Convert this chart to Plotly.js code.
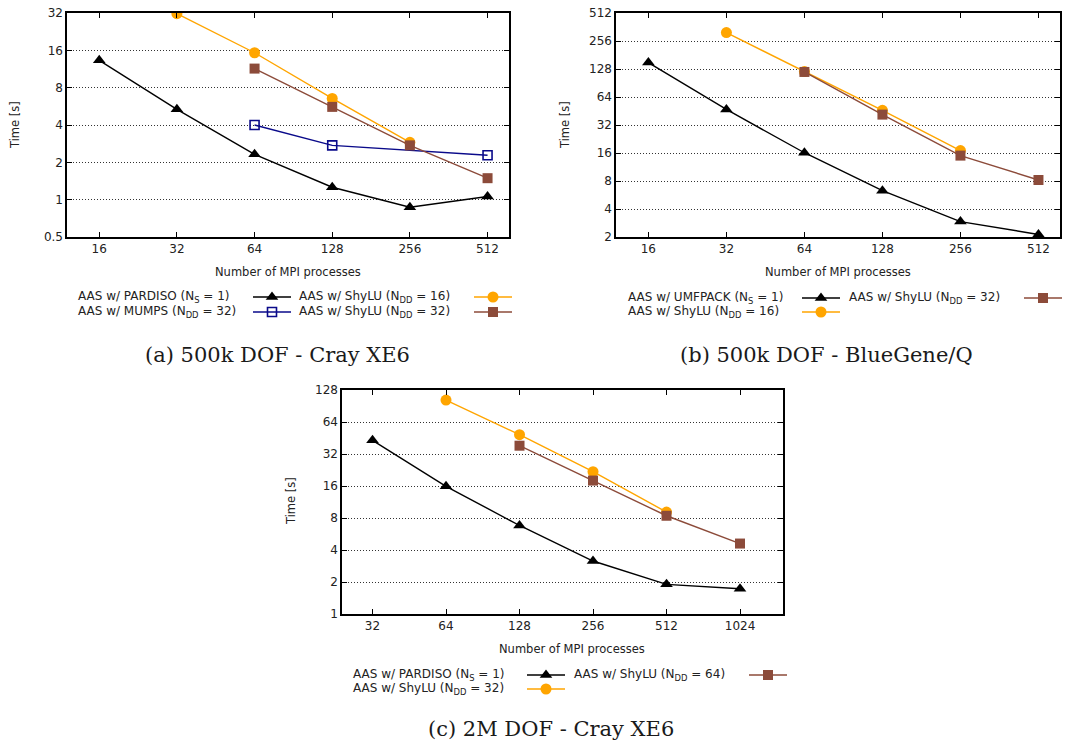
<!DOCTYPE html>
<html>
<head>
<meta charset="utf-8">
<script src="https://cdn.plot.ly/plotly-3.0.1.min.js"></script>
<style>html,body{margin:0;padding:0;background:#fff}#chart{width:1078px;height:745px}</style>
</head>
<body>
<div id="chart"></div>
<script>
// ---------- data ----------
const procsA = [16, 32, 64, 128, 256, 512];
const pardisoA = [13.3, 5.35, 2.32, 1.26, 0.87, 1.06];
const mumpsProcsA = [64, 128, 512];
const mumpsA = [4.0, 2.74, 2.28];
const shylu16ProcsA = [32, 64, 128, 256];
const shylu16A = [31.6, 15.3, 6.55, 2.9];
const shylu32ProcsA = [64, 128, 256, 512];
const shylu32A = [11.4, 5.6, 2.74, 1.49];

const procsB = [16, 32, 64, 128, 256, 512];
const umfpackB = [150, 47, 16.1, 6.3, 2.93, 2.13];
const shylu16ProcsB = [32, 64, 128, 256];
const shylu16B = [315, 120, 46, 17];
const shylu32ProcsB = [64, 128, 256, 512];
const shylu32B = [119, 41.4, 15, 8.2];

const procsC = [32, 64, 128, 256, 512, 1024];
const pardisoC = [43, 15.9, 6.8, 3.15, 1.9, 1.73];
const shylu32ProcsC = [64, 128, 256, 512];
const shylu32C = [103, 48.6, 21.8, 9.1];
const shylu64ProcsC = [128, 256, 512, 1024];
const shylu64C = [38.3, 18, 8.4, 4.6];

const xTicksAB = [16, 32, 64, 128, 256, 512];
const xTicksC = [32, 64, 128, 256, 512, 1024];
const yTicksA = [0.5, 1, 2, 4, 8, 16, 32];
const yTicksB = [2, 4, 8, 16, 32, 64, 128, 256, 512];
const yTicksC = [1, 2, 4, 8, 16, 32, 64, 128];

const captions = ["(a) 500k DOF - Cray XE6", "(b) 500k DOF - BlueGene/Q", "(c) 2M DOF - Cray XE6"];
const xLabel = "Number of MPI processes";
const yLabel = "Time [s]";

// ---------- styling ----------
const W = 1078, H = 745;
const px = x => x / W;
const py = y => 1 - y / H;
const C_BLACK = "#000000", C_ORANGE = "#ffa500", C_BROWN = "#8c4b3a", C_BLUE = "#0a0a8a";
const SANS = "DejaVu Sans, sans-serif";
const LW = 1.4;

function markerSpec(symbol, color) {
  if (symbol === "square-open") {
    return {symbol: "square-open", size: 9, color: color, line: {width: 1.6, color: color}};
  }
  return {symbol: symbol, size: symbol === "square" ? 10 : 11, color: color, line: {width: 0}};
}

function line(x, y, color, symbol, xa, ya) {
  return {
    x: x, y: y, xaxis: xa, yaxis: ya, type: "scatter", mode: "lines+markers",
    line: {color: color, width: LW}, marker: markerSpec(symbol, color),
    showlegend: false, hoverinfo: "skip"
  };
}

const traces = [
  line(procsA, pardisoA, C_BLACK, "triangle-up", "x", "y"),
  line(mumpsProcsA, mumpsA, C_BLUE, "square-open", "x", "y"),
  line(shylu16ProcsA, shylu16A, C_ORANGE, "circle", "x", "y"),
  line(shylu32ProcsA, shylu32A, C_BROWN, "square", "x", "y"),

  line(procsB, umfpackB, C_BLACK, "triangle-up", "x2", "y2"),
  line(shylu16ProcsB, shylu16B, C_ORANGE, "circle", "x2", "y2"),
  line(shylu32ProcsB, shylu32B, C_BROWN, "square", "x2", "y2"),

  line(procsC, pardisoC, C_BLACK, "triangle-up", "x3", "y3"),
  line(shylu32ProcsC, shylu32C, C_ORANGE, "circle", "x3", "y3"),
  line(shylu64ProcsC, shylu64C, C_BROWN, "square", "x3", "y3")
];

// legend samples drawn on an invisible pixel-coordinate overlay axis
const legendItems = [
  // [label, textX, rowY, sampleX0, color, symbol]
  ["AAS w/ PARDISO (N<sub>S</sub> = 1)", 76, 297, 253, C_BLACK, "triangle-up"],
  ["AAS w/ ShyLU (N<sub>DD</sub> = 16)", 297, 297, 474, C_ORANGE, "circle"],
  ["AAS w/ MUMPS (N<sub>DD</sub> = 32)", 76, 312, 253, C_BLUE, "square-open"],
  ["AAS w/ ShyLU (N<sub>DD</sub> = 32)", 297, 312, 474, C_BROWN, "square"],

  ["AAS w/ UMFPACK (N<sub>S</sub> = 1)", 626, 298, 802, C_BLACK, "triangle-up"],
  ["AAS w/ ShyLU (N<sub>DD</sub> = 32)", 847, 298, 1024, C_BROWN, "square"],
  ["AAS w/ ShyLU (N<sub>DD</sub> = 16)", 626, 312, 802, C_ORANGE, "circle"],

  ["AAS w/ PARDISO (N<sub>S</sub> = 1)", 351, 675, 527, C_BLACK, "triangle-up"],
  ["AAS w/ ShyLU (N<sub>DD</sub> = 64)", 572, 675, 749, C_BROWN, "square"],
  ["AAS w/ ShyLU (N<sub>DD</sub> = 32)", 351, 689, 527, C_ORANGE, "circle"]
];

const annotations = [];
legendItems.forEach(it => {
  const [label, tx, ty, sx, color, symbol] = it;
  traces.push({
    x: [sx, sx + 38], y: [ty, ty], xaxis: "x4", yaxis: "y4", type: "scatter", mode: "lines",
    line: {color: color, width: LW}, showlegend: false, hoverinfo: "skip"
  });
  traces.push({
    x: [sx + 19], y: [ty], xaxis: "x4", yaxis: "y4", type: "scatter", mode: "markers",
    marker: markerSpec(symbol, color), showlegend: false, hoverinfo: "skip"
  });
  annotations.push({
    xref: "paper", yref: "paper", x: px(tx), y: py(ty), xanchor: "left", yanchor: "middle",
    text: label, showarrow: false, font: {family: SANS, size: 12, color: "#222"}
  });
});

// axis labels and captions
const axisLabels = [
  [xLabel, 288, 272, 0], [xLabel, 838, 272, 0], [xLabel, 572, 649, 0],
  [yLabel, 15, 125, -90], [yLabel, 565, 125, -90], [yLabel, 291, 501, -90]
];
axisLabels.forEach(a => annotations.push({
  xref: "paper", yref: "paper", x: px(a[1]), y: py(a[2]), xanchor: "center", yanchor: "middle",
  text: a[0], textangle: a[3], showarrow: false, font: {family: SANS, size: 11.5, color: "#222"}
}));
const capPos = [[277, 355], [826, 355], [551, 729]];
captions.forEach((c, i) => annotations.push({
  xref: "paper", yref: "paper", x: px(capPos[i][0]), y: py(capPos[i][1]), xanchor: "center", yanchor: "middle",
  text: c, showarrow: false, font: {family: "DejaVu Serif, serif", size: 21, color: "#1a1a1a"}
}));

function xaxis(dom, ticks, range, anchor) {
  return {
    type: "log", domain: [px(dom[0]), px(dom[1])], range: range.map(Math.log10), anchor: anchor,
    tickvals: ticks, ticktext: ticks.map(String), ticks: "inside", ticklen: 5, tickwidth: 1, tickcolor: "#000",
    showline: true, linewidth: 1.6, linecolor: "#000", mirror: "ticks", showgrid: false, zeroline: false,
    tickfont: {family: SANS, size: 12, color: "#222"}, fixedrange: true
  };
}
function yaxis(dom, ticks, range, anchor) {
  return {
    type: "log", domain: [py(dom[1]), py(dom[0])], range: range.map(Math.log10), anchor: anchor,
    tickvals: ticks, ticktext: ticks.map(String), ticks: "inside", ticklen: 5, tickwidth: 1, tickcolor: "#000",
    showline: true, linewidth: 1.6, linecolor: "#000", mirror: "ticks",
    showgrid: true, gridcolor: "#333", griddash: "1px,2px", gridwidth: 1, zeroline: false,
    tickfont: {family: SANS, size: 12, color: "#222"}, fixedrange: true
  };
}

const layout = {
  width: W, height: H, margin: {l: 0, r: 0, t: 0, b: 0},
  paper_bgcolor: "#fff", plot_bgcolor: "rgba(0,0,0,0)", showlegend: false,
  xaxis: xaxis([67, 509], xTicksAB, [12, 620], "y"),
  yaxis: yaxis([13, 237], yTicksA, [0.5, 32], "x"),
  xaxis2: xaxis([616, 1060], xTicksAB, [12, 620], "y2"),
  yaxis2: yaxis([13, 237], yTicksB, [2, 512], "x2"),
  xaxis3: xaxis([342, 783], xTicksC, [24, 1536], "y3"),
  yaxis3: yaxis([390, 614], yTicksC, [1, 128], "x3"),
  xaxis4: {domain: [0, 1], range: [0, W], visible: false, anchor: "y4", fixedrange: true},
  yaxis4: {domain: [0, 1], range: [H, 0], visible: false, anchor: "x4", fixedrange: true},
  annotations: annotations
};

Plotly.newPlot("chart", traces, layout, {staticPlot: true, displayModeBar: false});
</script>
</body>
</html>
